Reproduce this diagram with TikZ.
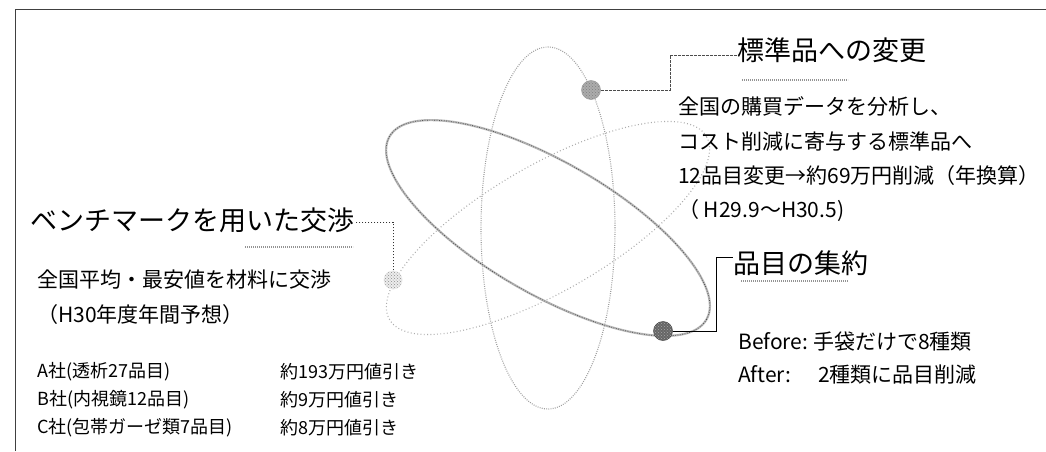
\documentclass[tikz,border=0pt]{standalone}
\usepackage{fontspec}
\setmainfont{Noto Sans CJK JP}
\usetikzlibrary{patterns}
\begin{document}
\begin{tikzpicture}[x=1pt,y=1pt,
  frameline/.style={draw=black!75, line width=1pt},
  orbitA/.style={draw=gray!55, line width=2.2pt},
  orbitAdots/.style={draw=black!70, line width=0.7pt, dash pattern=on 0.8pt off 1.6pt},
  orbitB/.style={draw=gray!75, line width=1.1pt, dash pattern=on 0.9pt off 1.3pt},
  orbitC/.style={draw=gray!65, line width=1.1pt, dash pattern=on 0.9pt off 2.4pt},
  ball/.style={circle, inner sep=0pt, minimum size=19pt},
  head/.style={inner sep=0pt, font=\fontsize{27}{32}\selectfont},
  body/.style={inner sep=0pt, anchor=west, font=\fontsize{21}{25}\selectfont},
  small/.style={inner sep=0pt, anchor=west, font=\fontsize{18}{22}\selectfont},
  uline/.style={draw=gray!85, line width=2.4pt, dash pattern=on 1.2pt off 0.8pt},
  connA/.style={draw=black!70, line width=0.9pt, dash pattern=on 3pt off 1pt},
  connB/.style={draw=black!80, line width=0.9pt, dash pattern=on 1.5pt off 1.5pt},
  connC/.style={draw=black, line width=1pt}]
\useasboundingbox (0,0) rectangle (1046,451);
\fill[white] (0,0) rectangle (1046,451);
\draw[frameline] (15,0) -- (15,441) -- (1046,441);

% orbits
\coordinate (c) at (548,223);
\draw[orbitB] (c) ellipse [x radius=67, y radius=181];
\draw[orbitC, rotate around={30:(c)}] (c) ellipse [x radius=183, y radius=63];
\draw[orbitA, rotate around={-30:(c)}] (c) ellipse [x radius=183, y radius=66];
\draw[orbitAdots, rotate around={-30:(c)}] (c) ellipse [x radius=183, y radius=66];

% balls
\node[ball, fill=gray!65, draw=gray!80, line width=0.5pt] (b1) at (591,361) {};
\fill[pattern=crosshatch dots, pattern color=black!50] (b1.center) circle (9);
\node[ball, fill=gray!15] (b2) at (393,171) {};
\fill[pattern=crosshatch dots, pattern color=gray!90] (b2.center) circle (9);
\node[ball, fill=black!60, draw=black!75, line width=0.5pt] (b3) at (663,120) {};
\fill[pattern=crosshatch dots, pattern color=black!35] (b3.center) circle (9.5);

% headings
\node[head, anchor=west] (l1) at (737,401) {標準品への変更};
\node[head, anchor=east] (l2) at (355,231) {ベンチマークを用いた交渉};
\node[head, anchor=west] (l3) at (733,188) {品目の集約};

\draw[uline] (742,371) -- (848,371);
\draw[uline] (245,204) -- (353,204);
\draw[uline] (741,170) -- (848,170);

% connectors
\coordinate (k1) at (670,396);
\coordinate (k2) at (393,229);
\coordinate (k3) at (716,194);
\draw[connA] (b1.east) -| (k1) -- (l1.west |- k1);
\draw[connB] (b2.north) -- (k2) -- (k2 -| l2.east);
\draw[connC] (b3.east) -| (k3) -- (k3 -| l3.west);

% right body text
\node[body] (r1) at (678,345) {全国の購買データを分析し、};
\node[body] (r2) at (678,310) {コスト削減に寄与する標準品へ};
\node[body] (r3) at (678,275) {12品目変更→約69万円削減（年換算）};
\node[body] (r4) at (678,240) {（ H29.9～H30.5)};

% left body text
\node[body] (p1) at (37,171) {全国平均・最安値を材料に交渉};
\node[body] (p2) at (37,136) {（H30年度年間予想）};

\node[small] (a1) at (37,79) {A社(透析27品目)};
\node[small] (a2) at (37,51) {B社(内視鏡12品目)};
\node[small] (a3) at (37,23) {C社(包帯ガーゼ類7品目)};
\node[small] (v1) at (280,79) {約193万円値引き};
\node[small] (v2) at (280,51) {約9万円値引き};
\node[small] (v3) at (280,23) {約8万円値引き};

% before / after
\node[body] (f1) at (738,109) {\makebox[75pt][l]{Before:}手袋だけで8種類};
\node[body] (f2) at (738,76) {\makebox[80pt][l]{After:}2種類に品目削減};
\end{tikzpicture}
\end{document}
